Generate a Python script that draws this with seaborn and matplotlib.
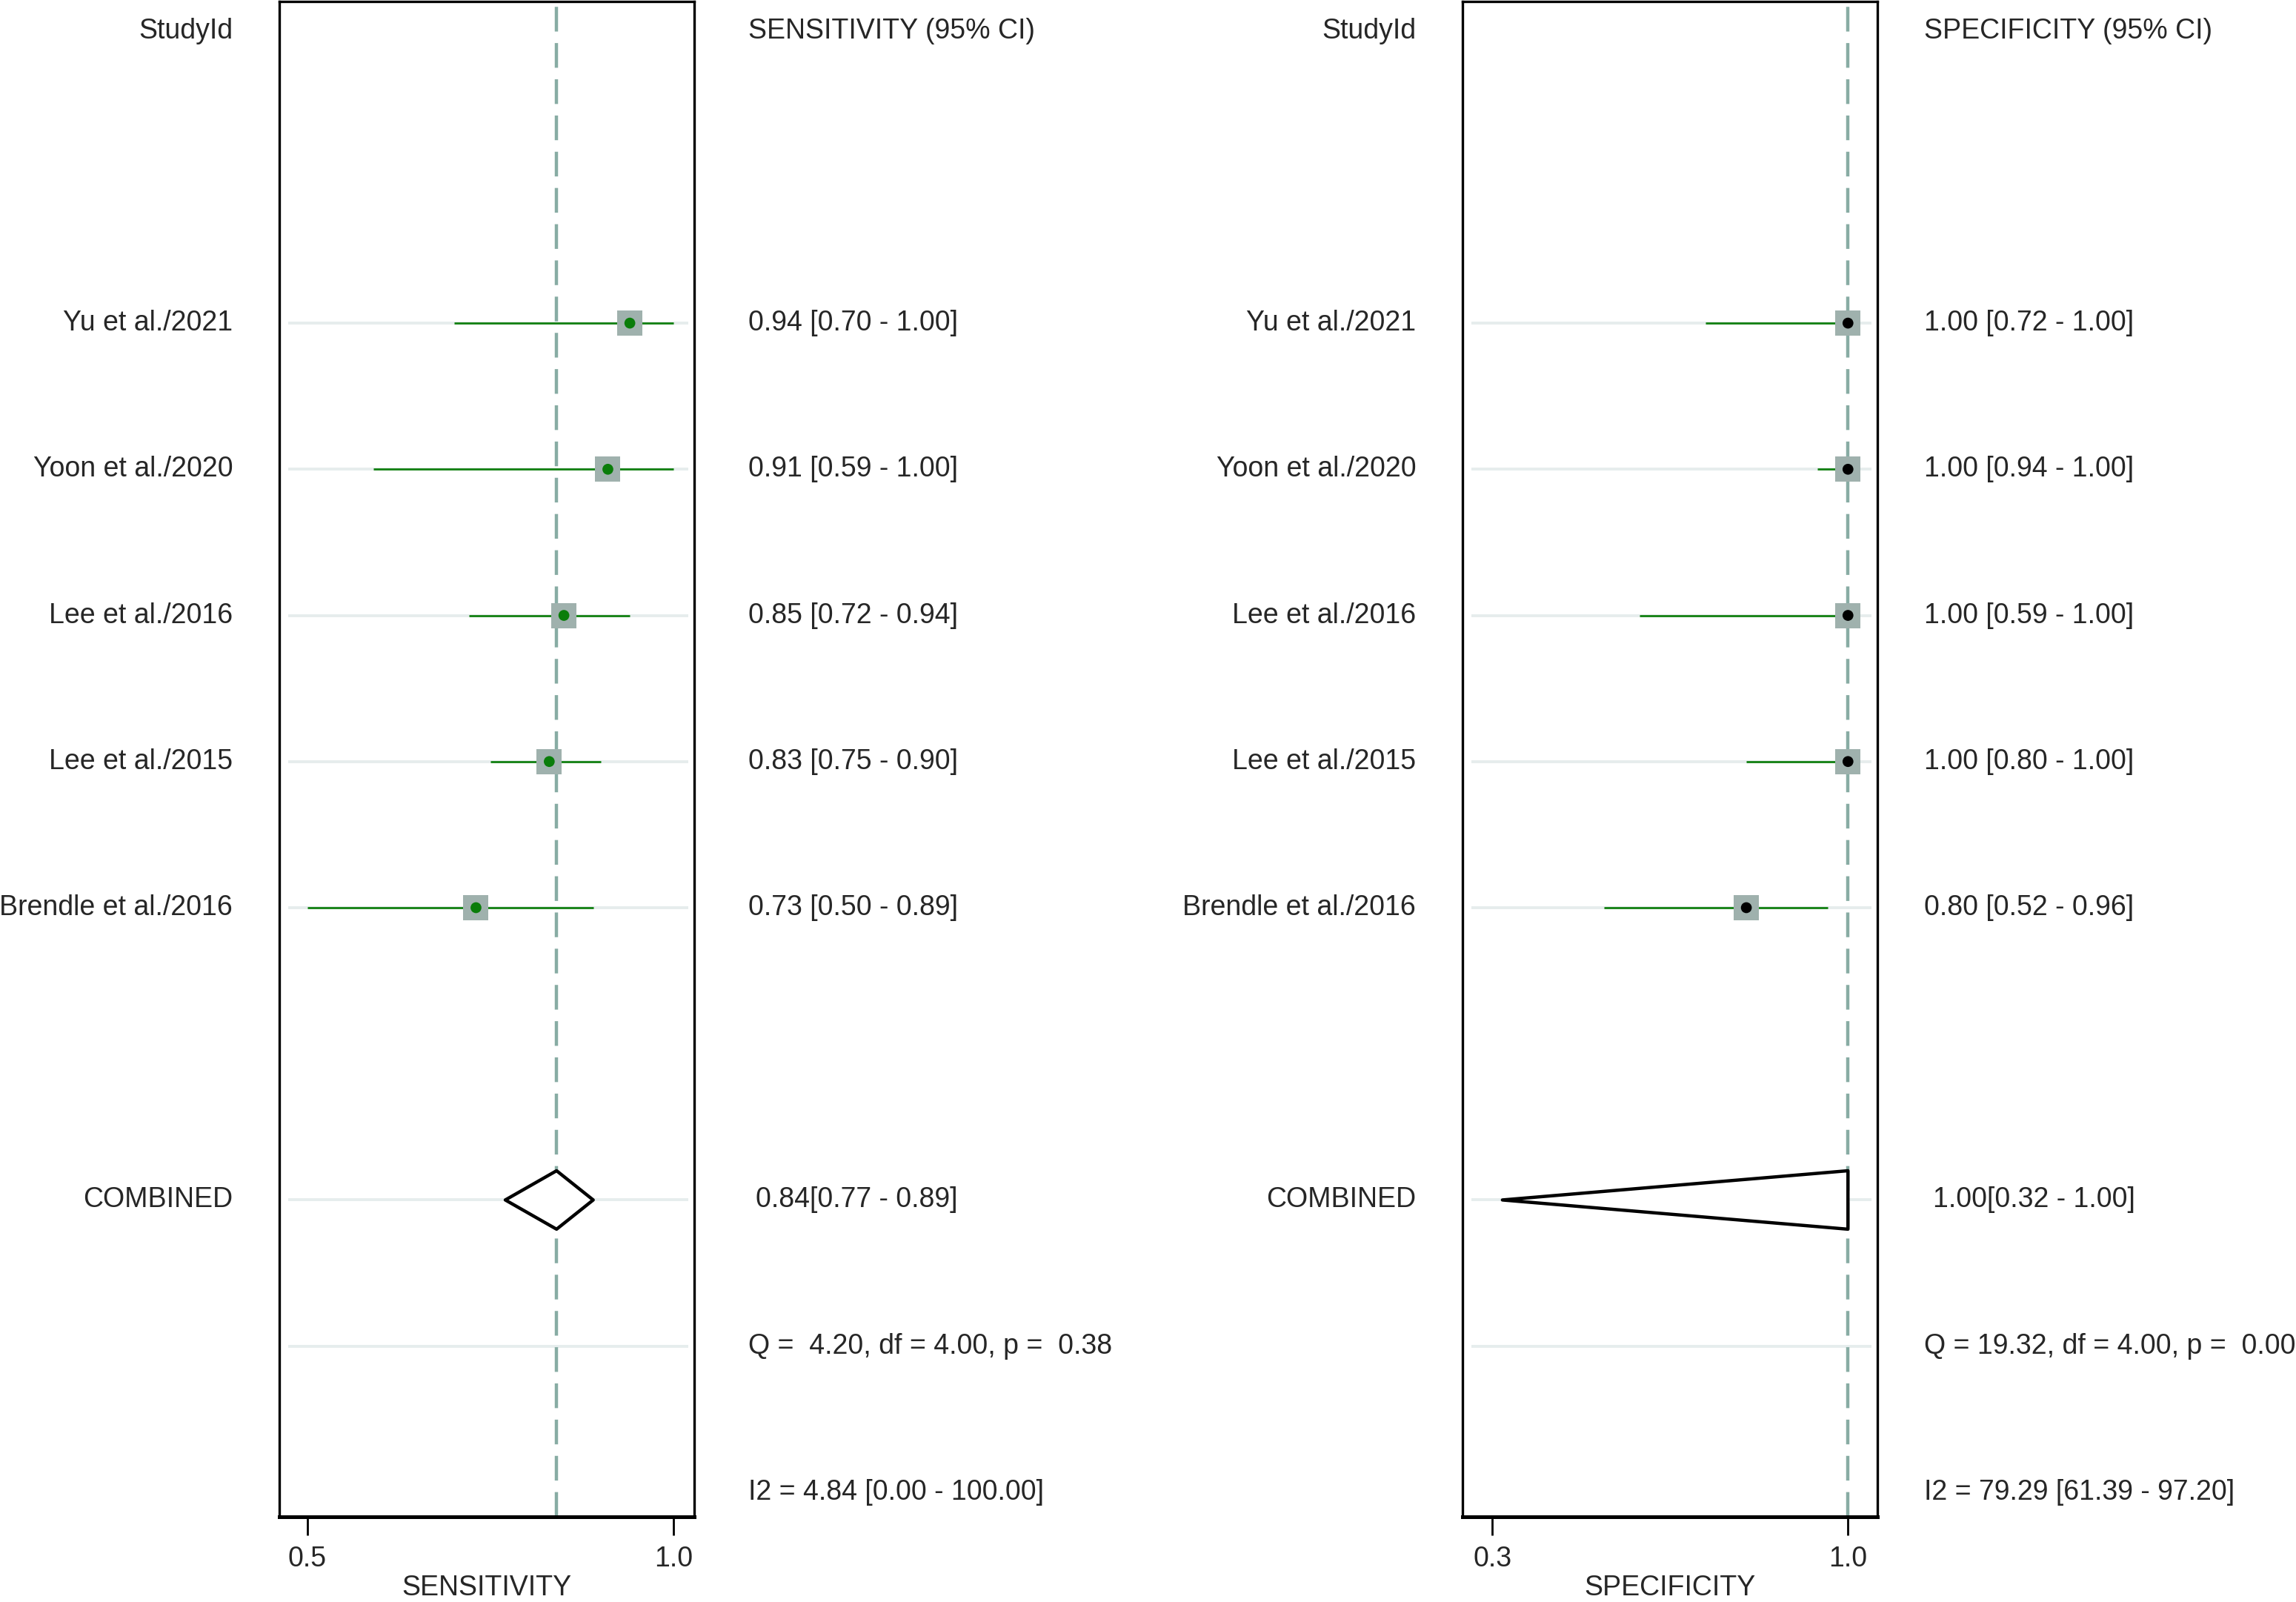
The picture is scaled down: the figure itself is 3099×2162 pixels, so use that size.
import numpy as np
import pandas as pd
import matplotlib
matplotlib.use("Agg")
import matplotlib.pyplot as plt
import seaborn as sns

# Forest plot of sensitivity / specificity (bivariate meta-analysis style)

studies = ['Yu et al./2021', 'Yoon et al./2020', 'Lee et al./2016',
           'Lee et al./2015', 'Brendle et al./2016']

sens = [0.94, 0.91, 0.85, 0.83, 0.73]
sens_lo = [0.70, 0.59, 0.72, 0.75, 0.50]
sens_hi = [1.00, 1.00, 0.94, 0.90, 0.89]

spec = [1.00, 1.00, 1.00, 1.00, 0.80]
spec_lo = [0.72, 0.94, 0.59, 0.80, 0.52]
spec_hi = [1.00, 1.00, 1.00, 1.00, 0.96]

sens_comb = [0.84, 0.77, 0.89]
spec_comb = [1.00, 0.32, 1.00]

sens_q = 'Q =  4.20, df = 4.00, p =  0.38'
spec_q = 'Q = 19.32, df = 4.00, p =  0.00'
sens_i2 = 'I2 = 4.84 [0.00 - 100.00]'
spec_i2 = 'I2 = 79.29 [61.39 - 97.20]'

sns.set_theme(style='white')
plt.rcParams['font.family'] = ['Liberation Sans', 'DejaVu Sans']

FS = 13.5
study_rows = [2, 3, 4, 5, 6]
comb_row, q_row, i2_row = 8, 9, 10

fig = plt.figure(figsize=(15.495, 10.81), dpi=200)

panels = [
    dict(pos=[0.1218, 0.053, 0.1806, 0.946], est=sens, lo=sens_lo, hi=sens_hi,
         comb=sens_comb, q=sens_q, i2=sens_i2, xlim=(0.462, 1.028),
         ticks=[0.5, 1.0], name='SENSITIVITY', dot='#0a7d0a', txt_x=1.1307, comb_x=1.148),
    dict(pos=[0.6371, 0.053, 0.1806, 0.946], est=spec, lo=spec_lo, hi=spec_hi,
         comb=spec_comb, q=spec_q, i2=spec_i2, xlim=(0.242, 1.058),
         ticks=[0.3, 1.0], name='SPECIFICITY', dot='black', txt_x=1.113, comb_x=1.134),
]

for p in panels:
    ax = fig.add_axes(p['pos'])
    ax.set_xlim(*p['xlim'])
    ax.set_ylim(10.17, -0.2)

    df = pd.DataFrame({'study': studies, 'row': study_rows, 'est': p['est'],
                       'lo': p['lo'], 'hi': p['hi']})

    # light row guides
    ytr = ax.get_yaxis_transform()
    ax.hlines(study_rows + [comb_row, q_row], 0.02, 0.985, transform=ytr,
              color='#e6eded', lw=1.4, zorder=1)

    # pooled estimate reference line
    ax.axvline(p['comb'][0], color='#88aca4', lw=1.6, dashes=(7.5, 3.5), zorder=2)

    # confidence intervals
    ax.hlines(df['row'], df['lo'], df['hi'], color='#118011', lw=1.0, zorder=3)

    # weight squares and point estimates
    sns.scatterplot(data=df, x='est', y='row', marker='s', s=150, color='#9fb1ad',
                    edgecolor='none', ax=ax, zorder=4, legend=False)
    sns.scatterplot(data=df, x='est', y='row', marker='o', s=28, color=p['dot'],
                    edgecolor='none', ax=ax, zorder=5, legend=False)

    # pooled diamond
    c, clo, chi = p['comb']
    h = 0.2
    ax.fill([clo, c, chi, c, clo], [comb_row, comb_row - h, comb_row, comb_row + h, comb_row],
            facecolor='white', edgecolor='black', lw=1.6, zorder=6, joinstyle='round')

    # text columns
    ax.text(-0.113, 0, 'StudyId', transform=ytr, ha='right', va='center', fontsize=FS)
    ax.text(p['txt_x'], 0, f"{p['name']} (95% CI)", transform=ytr, ha='left',
            va='center', fontsize=FS)
    for r, s, e, l, u in zip(study_rows, studies, p['est'], p['lo'], p['hi']):
        ax.text(-0.113, r, s, transform=ytr, ha='right', va='center', fontsize=FS)
        ax.text(p['txt_x'], r, f'{e:.2f} [{l:.2f} - {u:.2f}]', transform=ytr,
                ha='left', va='center', fontsize=FS)
    ax.text(-0.113, comb_row, 'COMBINED', transform=ytr, ha='right', va='center', fontsize=FS)
    ax.text(p['comb_x'], comb_row, f'{c:.2f}[{clo:.2f} - {chi:.2f}]', transform=ytr,
            ha='left', va='center', fontsize=FS)
    ax.text(p['txt_x'], q_row, p['q'], transform=ytr, ha='left', va='center', fontsize=FS)
    ax.text(p['txt_x'], i2_row, p['i2'], transform=ytr, ha='left', va='center', fontsize=FS)

    # axes styling
    ax.set_yticks([])
    ax.set_ylabel('')
    ax.set_xticks(p['ticks'])
    ax.set_xticklabels([f'{t:.1f}' for t in p['ticks']], fontsize=FS)
    ax.tick_params(axis='x', bottom=True, direction='out', length=9, width=1.0,
                   color='black', pad=5.0)
    ax.set_xlabel(p['name'], fontsize=FS, labelpad=1.0)
    for side, sp in ax.spines.items():
        sp.set_visible(True)
        sp.set_color('black')
        sp.set_linewidth(1.8 if side == 'bottom' else 1.2)

fig.savefig('out.png', dpi=200, facecolor='white')
